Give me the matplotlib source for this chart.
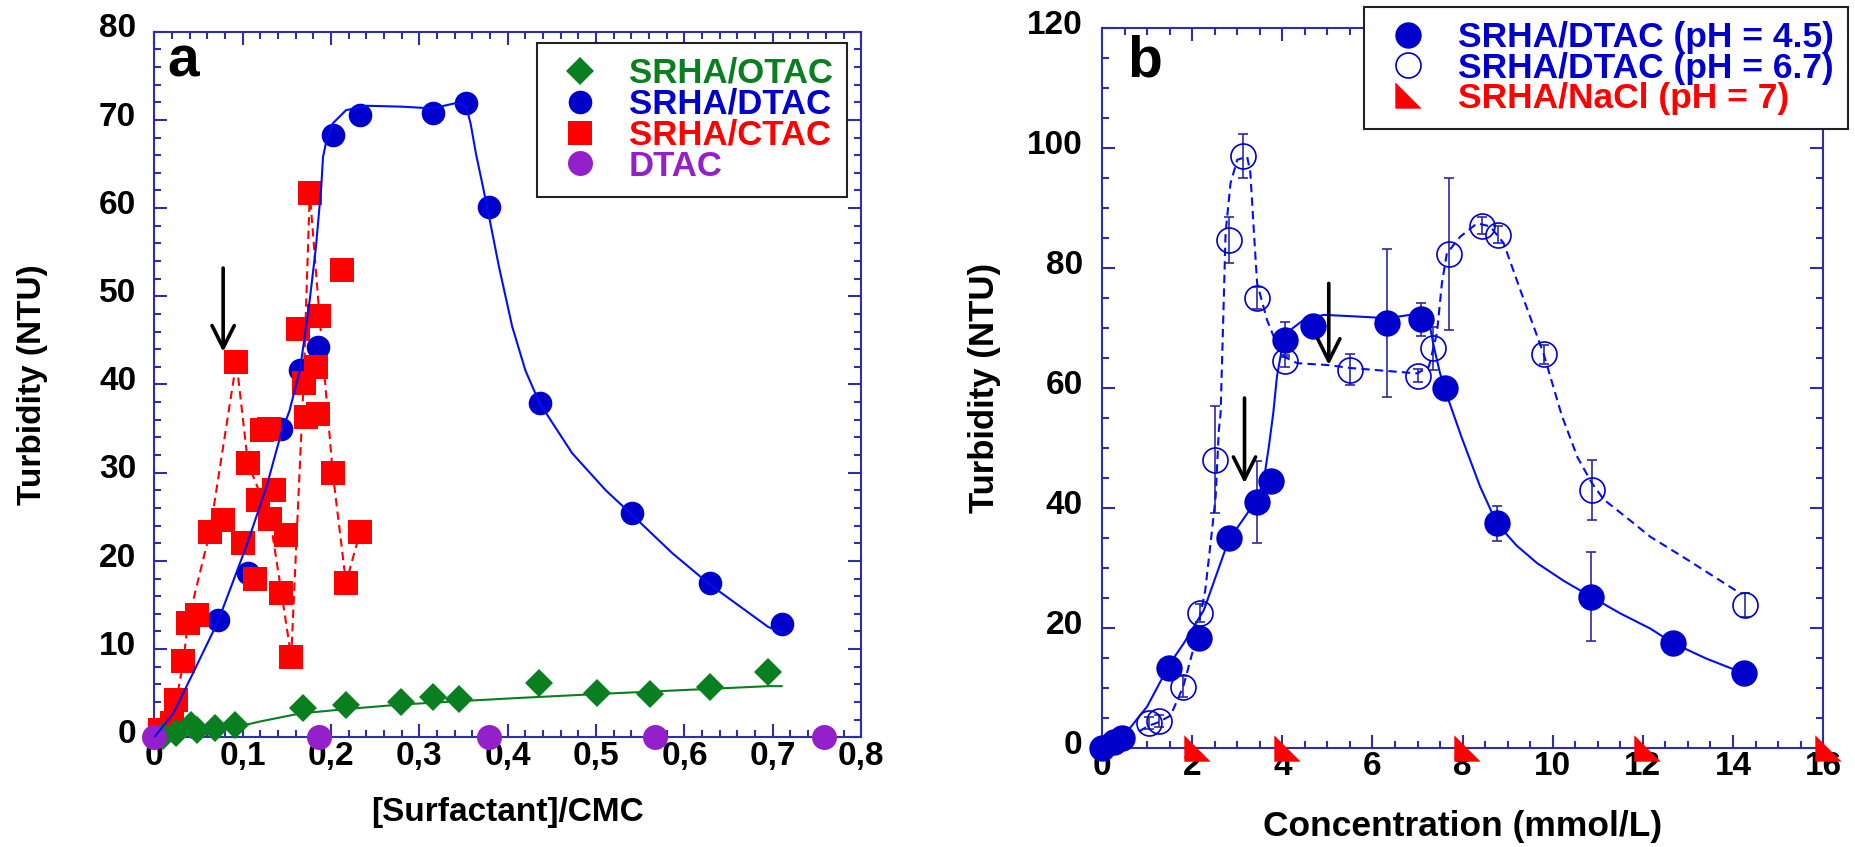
import matplotlib.pyplot as plt
import matplotlib.transforms as mtransforms
from matplotlib.ticker import MultipleLocator

plt.rcParams['font.family'] = ['Liberation Sans', 'DejaVu Sans']
plt.rcParams['font.weight'] = 'bold'

# ----- panel a : turbidity vs [surfactant]/CMC
otac_x = [0.01, 0.025, 0.042, 0.048, 0.0685, 0.091, 0.168, 0.217, 0.279, 0.315,
          0.345, 0.435, 0.501, 0.561, 0.629, 0.694]
otac_y = [0.2, 0.5, 1.4, 0.8, 1.0, 1.4, 3.3, 3.7, 4.0, 4.6, 4.4, 6.2, 5.0, 4.9, 5.7, 7.4]
otac_fit_x = [0, 0.03, 0.06, 0.09, 0.12, 0.165, 0.217, 0.277, 0.345, 0.42, 0.50, 0.63, 0.695, 0.71]
otac_fit_y = [0, 0.4, 0.8, 1.1, 1.8, 2.7, 3.2, 3.7, 4.1, 4.5, 4.9, 5.5, 5.8, 5.8]

dtac_x = [0.02, 0.0723, 0.106, 0.144, 0.165, 0.185, 0.202, 0.233, 0.315, 0.353,
          0.379, 0.437, 0.541, 0.629, 0.710]
dtac_y = [1.0, 13.3, 18.6, 34.9, 41.7, 44.3, 68.3, 70.6, 70.8, 71.9, 60.1, 37.9, 25.4, 17.5, 12.9]
dtac_fit_x = [0, 0.0215, 0.044, 0.072, 0.104, 0.127, 0.144, 0.153, 0.165, 0.176, 0.183,
              0.189, 0.191, 0.195, 0.202, 0.217, 0.24, 0.28, 0.315, 0.341, 0.353, 0.358,
              0.364, 0.372, 0.379, 0.39, 0.405, 0.42, 0.436, 0.473, 0.511, 0.541, 0.586,
              0.629, 0.695, 0.71]
dtac_fit_y = [0, 2.7, 7.3, 13.1, 21.6, 28.4, 34.6, 37.0, 41.7, 49.6, 55.6, 62.4, 65.8, 67.7,
              69.6, 71.1, 71.6, 71.5, 71.3, 71.9, 71.5, 69.6, 66.2, 62.4, 59.0, 53.4, 46.6,
              41.6, 37.9, 32.2, 28.0, 25.2, 20.9, 17.3, 12.5, 11.9]

ctac_x = [0.0064, 0.0196, 0.025, 0.033, 0.038, 0.048, 0.063, 0.078, 0.093, 0.1005, 0.106,
          0.114, 0.117, 0.122, 0.130, 0.131, 0.136, 0.144, 0.149, 0.155, 0.163, 0.169,
          0.172, 0.176, 0.183, 0.185, 0.187, 0.202, 0.212, 0.217, 0.233]
ctac_y = [0.8, 1.6, 4.2, 8.6, 13.0, 13.9, 23.3, 24.6, 42.6, 22.0, 31.1, 18.0, 26.9, 34.8,
          34.9, 24.8, 28.0, 16.4, 22.9, 9.1, 46.3, 40.2, 36.3, 61.7, 42.0, 36.7, 47.8, 30.0,
          53.0, 17.5, 23.3]
ctac_line_x = [0, 0.0196, 0.025, 0.033, 0.038, 0.063, 0.093, 0.106, 0.131, 0.144, 0.155,
               0.169, 0.176, 0.187, 0.202, 0.217, 0.233]
ctac_line_y = [0, 1.6, 4.2, 8.6, 13.0, 23.3, 42.6, 31.1, 24.8, 16.4, 9.1, 40.2, 61.7, 47.8,
               30.0, 17.5, 23.3]

dtac_only_x = [0.0, 0.187, 0.379, 0.567, 0.758]
dtac_only_y = [0, 0, 0, 0, 0]

# ----- panel b : turbidity vs concentration
ph45_x = [0.0, 0.26, 0.45, 1.48, 2.15, 2.81, 3.43, 3.74, 4.05, 4.68, 6.32, 7.08, 7.62,
          8.76, 10.85, 12.66, 14.25]
ph45_y = [0.0, 1.1, 1.7, 13.4, 18.4, 35.0, 41.1, 44.5, 68.1, 70.4, 70.9, 71.5, 60.0,
          37.5, 25.3, 17.6, 12.5]
ph45_err = [0, 0, 0, 0, 0, 0, 6.8, 0, 2.9, 0, 12.4, 2.8, 0, 2.9, 7.4, 0, 0]
ph45_fit_x = [0, 0.5, 1.0, 1.51, 1.81, 2.26, 2.81, 3.43, 3.59, 3.70, 3.80, 3.88, 4.0, 4.18,
              4.47, 4.92, 5.6, 6.32, 6.84, 7.1, 7.25, 7.36, 7.5, 7.69, 7.97, 8.39, 8.76,
              9.2, 9.65, 10.25, 10.85, 11.5, 12.16, 12.66, 13.4, 14.25]
ph45_fit_y = [0, 2.3, 7.0, 14.2, 17.5, 23.1, 34.75, 41.4, 44.75, 50.3, 56, 62, 67, 69.75,
              71.4, 72.25, 72.0, 71.7, 72.25, 72.8, 71.4, 67, 62.5, 58, 52, 43.6, 37.5,
              33.8, 30.9, 27.9, 25.3, 22.5, 20, 17.6, 15.0, 12.5]

ph67_x = [1.04, 1.26, 1.80, 2.18, 2.50, 2.81, 3.13, 3.44, 4.05, 5.49, 7.02, 7.34, 7.70,
          8.44, 8.78, 9.80, 10.87, 14.26]
ph67_y = [4.2, 4.5, 10.3, 22.5, 48.1, 84.75, 98.75, 75.1, 64.5, 63.1, 62.1, 66.7, 82.4,
          87.1, 85.6, 65.7, 43.0, 23.9]
ph67_err = [1.0, 1.0, 1.7, 1.5, 8.9, 3.8, 3.7, 1.8, 1.0, 2.6, 1.1, 3.6, 12.7, 1.4, 1.4,
            1.6, 5.0, 2.0]
ph67_fit_x = [0, 0.5, 1.04, 1.26, 1.52, 1.8, 2.04, 2.29, 2.44, 2.52, 2.59, 2.63, 2.70, 2.74,
              2.85, 3.0, 3.22, 3.29, 3.37, 3.44, 3.66, 3.81, 4.03, 4.33, 4.99, 5.51, 6.99,
              7.25, 7.43, 7.54, 7.65, 7.95, 8.32, 8.61, 8.91, 9.28, 9.80, 10.2, 10.55, 10.87,
              11.13, 11.8, 12.16, 13.0, 14.15]
ph67_fit_y = [0, 1.5, 3.8, 4.4, 5.5, 10.3, 17, 26.4, 36.4, 42, 53, 55.9, 74.75, 85.9, 94.2,
              98.1, 98.6, 95.9, 85.9, 77.5, 71.4, 68.6, 65.3, 64.2, 63.9, 63.4, 62.5, 63.6,
              69.2, 77.5, 82.5, 85.3, 87.5, 87, 84.2, 76.4, 65.7, 55.5, 48.5, 44.2,
              41.5, 37.5, 35.3, 31.4, 25.9]

nacl_x = [2.1, 4.1, 8.1, 12.1, 16.1]
nacl_y = [0, 0, 0, 0, 0]

xticks_a = [0, 0.1, 0.2, 0.3, 0.4, 0.5, 0.6, 0.7, 0.8]
xticklabels_a = ["0", "0,1", "0,2", "0,3", "0,4", "0,5", "0,6", "0,7", "0,8"]
yticks_a = [0, 10, 20, 30, 40, 50, 60, 70, 80]
xticks_b = [0, 2, 4, 6, 8, 10, 12, 14, 16]
yticks_b = [0, 20, 40, 60, 80, 100, 120]

# colours
SPINE = "#2E2EA8"
BLUE_M = "#0000CC"
BLUE_L = "#0010F0"
GREEN = "#0A7F1F"
RED = "#FF0000"
PURPLE = "#9420CC"
ERR = "#2B2BA0"

TRIANGLE = [(-1, 1), (-1, -1), (1, -1), (-1, 1)]


def style_axes(ax, xpad, ypad):
    """common frame: blue spines, inward ticks on all four sides"""
    for sp in ax.spines.values():
        sp.set_color(SPINE)
        sp.set_linewidth(1.5)
    ax.tick_params(which="both", direction="in", top=True, right=True,
                   color=SPINE, labelcolor="black", width=1.5, labelsize=24)
    ax.tick_params(which="major", length=9.5)
    ax.tick_params(which="minor", length=5)
    ax.tick_params(axis="x", pad=xpad)
    ax.tick_params(axis="y", pad=ypad)
    # y labels sit a little above their ticks in the original
    lift = mtransforms.ScaledTranslation(0, 4.5 / 72, fig.dpi_scale_trans)
    for lab in ax.get_yticklabels():
        lab.set_transform(lab.get_transform() + lift)


def down_arrow(ax, x, y_tip, y_tail):
    ax.annotate("", xy=(x, y_tip), xytext=(x, y_tail),
                arrowprops=dict(arrowstyle="->", lw=2.6, color="black",
                                mutation_scale=40, shrinkA=0, shrinkB=0), zorder=7)


fig = plt.figure(figsize=(18.56, 8.47), dpi=100)
ax_a = fig.add_axes([0.0831, 0.1295, 0.3809, 0.8331])
ax_b = fig.add_axes([0.5938, 0.1163, 0.3885, 0.8503])

# ===== panel a
ax_a.plot(otac_fit_x, otac_fit_y, color=GREEN, lw=1.5, zorder=3)
ax_a.plot(ctac_line_x, ctac_line_y, color=RED, lw=1.5, dashes=(4, 2.5), zorder=2)
h_dtac, = ax_a.plot(dtac_x, dtac_y, "o", color=BLUE_M, ms=17, mew=0, zorder=3,
                    clip_on=False, label="SRHA/DTAC")
h_ctac, = ax_a.plot(ctac_x, ctac_y, "s", color=RED, ms=17, mew=0, zorder=4,
                    clip_on=False, label="SRHA/CTAC")
h_otac, = ax_a.plot(otac_x, otac_y, "D", color=GREEN, ms=14, mew=0, zorder=4,
                    clip_on=False, label="SRHA/OTAC")
h_only, = ax_a.plot(dtac_only_x, dtac_only_y, "o", color=PURPLE, ms=18, mew=0, zorder=5,
                    clip_on=False, label="DTAC")
ax_a.plot(dtac_fit_x, dtac_fit_y, color=BLUE_L, lw=1.5, zorder=6)

down_arrow(ax_a, 0.078, 43.7, 53.2)

ax_a.set_xlim(0, 0.8)
ax_a.set_ylim(0, 80)
ax_a.set_xticks(xticks_a, xticklabels_a)
ax_a.set_yticks(yticks_a)
ax_a.xaxis.set_minor_locator(MultipleLocator(0.02))
ax_a.yaxis.set_minor_locator(MultipleLocator(2))
style_axes(ax_a, xpad=3.0, ypad=13)

ax_a.set_xlabel("[Surfactant]/CMC", fontsize=24, fontweight="bold", va="center")
ax_a.xaxis.set_label_coords(0.5, -0.107)
ax_a.set_ylabel("Turbidity (NTU)", fontsize=24, fontweight="bold", va="center")
ax_a.yaxis.set_label_coords(-0.172, 0.5)
ax_a.text(0.018, 0.936, "a", transform=ax_a.transAxes, fontsize=41,
          fontweight="bold", va="baseline", ha="left")

leg_a = ax_a.legend(handles=[h_otac, h_dtac, h_ctac, h_only],
                    labelcolor=[GREEN, BLUE_M, RED, PURPLE],
                    prop={"weight": "bold", "size": 25}, loc="upper right",
                    bbox_to_anchor=(847 / 1856, 1 - 43 / 847),
                    bbox_transform=fig.transFigure, fancybox=False, framealpha=1,
                    edgecolor="#222222", borderpad=0.4, labelspacing=-0.06,
                    handlelength=1.7, handletextpad=0.55, borderaxespad=0)
leg_a.get_frame().set_linewidth(1.5)

# ===== panel b
ax_b.errorbar(ph45_x, ph45_y, yerr=ph45_err, fmt="none", ecolor=ERR, elinewidth=1.2,
              capsize=3.6, capthick=1.2, zorder=3)
ax_b.errorbar(ph67_x, ph67_y, yerr=ph67_err, fmt="none", ecolor=ERR, elinewidth=1.2,
              capsize=3.6, capthick=1.2, zorder=3)
ax_b.plot(ph45_fit_x, ph45_fit_y, color=BLUE_L, lw=1.5, zorder=4)
ax_b.plot(ph67_fit_x, ph67_fit_y, color=BLUE_L, lw=1.5, dashes=(4, 2.5), zorder=4)
h_45, = ax_b.plot(ph45_x, ph45_y, "o", color=BLUE_M, ms=19, mew=0, zorder=5,
                  clip_on=False, label="SRHA/DTAC (pH = 4.5)")
h_67, = ax_b.plot(ph67_x, ph67_y, "o", mfc="none", mec=BLUE_M, ms=18, mew=1.2, zorder=5,
                  clip_on=False, label="SRHA/DTAC (pH = 6.7)")
h_na, = ax_b.plot(nacl_x, nacl_y, marker=TRIANGLE, ls="none", color=RED, ms=19, mew=0,
                  zorder=6, clip_on=False, label="SRHA/NaCl (pH = 7)")

down_arrow(ax_b, 5.03, 63.9, 77.5)
down_arrow(ax_b, 3.16, 44.2, 58.4)

ax_b.set_xlim(0, 16)
ax_b.set_ylim(0, 120)
ax_b.set_xticks(xticks_b)
ax_b.set_yticks(yticks_b)
ax_b.xaxis.set_minor_locator(MultipleLocator(0.5))
ax_b.yaxis.set_minor_locator(MultipleLocator(5))
style_axes(ax_b, xpad=2.0, ypad=14)

ax_b.set_xlabel("Concentration (mmol/L)", fontsize=25.5, fontweight="bold", va="center")
ax_b.xaxis.set_label_coords(0.5, -0.109)
ax_b.set_ylabel("Turbidity (NTU)", fontsize=25, fontweight="bold", va="center")
ax_b.yaxis.set_label_coords(-0.163, 0.5)
ax_b.text(0.035, 0.933, "b", transform=ax_b.transAxes, fontsize=41,
          fontweight="bold", va="baseline", ha="left")

leg_b = ax_b.legend(handles=[h_45, h_67, h_na], labelcolor=[BLUE_M, BLUE_M, RED],
                    prop={"weight": "bold", "size": 25.5}, loc="upper right",
                    bbox_to_anchor=(1848 / 1856, 1 - 7.3 / 847),
                    bbox_transform=fig.transFigure, fancybox=False, framealpha=1,
                    edgecolor="#222222", borderpad=0.4, labelspacing=-0.08,
                    handlelength=1.7, handletextpad=0.55, borderaxespad=0)
leg_b.get_frame().set_linewidth(1.5)

fig.savefig("out.png", dpi=100)
